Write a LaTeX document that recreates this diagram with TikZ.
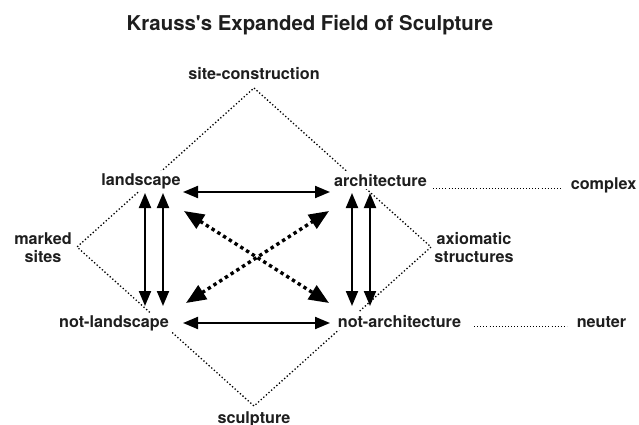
\documentclass[tikz,border=0pt]{standalone}
\usepackage{fontspec}
\setmainfont{TeX Gyre Heros}
\usetikzlibrary{arrows.meta}
\definecolor{ink}{HTML}{1E1E1E}
\begin{document}
\begin{tikzpicture}[x=1pt,y=-1pt,
  ttl/.style={font=\fontsize{20.4}{24}\selectfont\bfseries, text=ink, inner sep=0pt, anchor=base},
  lbl/.style={font=\fontsize{16.2}{17.5}\selectfont\bfseries, text=ink, fill=white, inner sep=2.5pt, anchor=base},
  twoline/.style={font=\fontsize{16.2}{17.5}\selectfont\bfseries, text=ink, align=center, inner sep=0pt},
  edge/.style={line width=1.3pt, dash pattern=on 1.3pt off 2.2pt},
  leader/.style={line width=0.9pt, dash pattern=on 0.9pt off 2.2pt},
  rel/.style={line width=2pt, {Triangle[length=15pt,width=12pt]}-{Triangle[length=15pt,width=12pt]}},
  opp/.style={line width=3.4pt, dash pattern=on 3.4pt off 3.4pt, {Triangle[length=20pt,width=16pt]}-{Triangle[length=20pt,width=16pt]}},
]
\useasboundingbox (0,0) rectangle (639,425);

% corners of the expanded field
\coordinate (top) at (254,88);
\coordinate (left) at (77,247);
\coordinate (bottom) at (254,406);
\coordinate (right) at (431,247);
\draw[edge] (top) -- (right) -- (bottom) -- (left) -- cycle;

% title
\node[ttl] (title) at (310,31) {Krauss\textquotesingle s Expanded Field of Sculpture};

% the four terms and the complex/neuter combinations
\node[lbl] (site) at (254,80) {site-construction};
\node[lbl] (land) at (141,185) {landscape};
\node[lbl] (arch) at (380.5,186) {architecture};
\node[lbl] (nland) at (114,327) {not-landscape};
\node[lbl] (narch) at (399.5,327) {not-architecture};
\node[lbl] (sculp) at (254,423) {sculpture};
\node[lbl] (cplx) at (603.5,189) {complex};
\node[lbl] (neut) at (601.5,327) {neuter};
\node[twoline] (marked) at (43,247.5) {marked\\sites};
\node[twoline] (axiom) at (474,247.5) {axiomatic\\structures};

% dotted leaders
\coordinate (lc1) at (433,188);
\coordinate (lc2) at (563,188);
\coordinate (ln1) at (474,326);
\coordinate (ln2) at (567,326);
\draw[leader] (lc1) -- (lc2);
\draw[leader] (ln1) -- (ln2);

% arrow end points
\coordinate (l1a) at (145,193);  \coordinate (l1b) at (145,306);
\coordinate (l2a) at (163,193);  \coordinate (l2b) at (163,306);
\coordinate (r1a) at (352,193);  \coordinate (r1b) at (352,306);
\coordinate (r2a) at (370,193);  \coordinate (r2b) at (370,306);
\coordinate (ta) at (183,192);   \coordinate (tb) at (330,192);
\coordinate (ba) at (183,323);   \coordinate (bb) at (330,323);
\coordinate (d1a) at (184,211);  \coordinate (d1b) at (329,303);
\coordinate (d2a) at (186,303);  \coordinate (d2b) at (329,211);

% relations between the terms
\draw[rel] (l1a) -- (l1b);
\draw[rel] (l2a) -- (l2b);
\draw[rel] (r1a) -- (r1b);
\draw[rel] (r2a) -- (r2b);
\draw[rel] (ta) -- (tb);
\draw[rel] (ba) -- (bb);
\draw[opp] (d1a) -- (d1b);
\draw[opp] (d2a) -- (d2b);
\end{tikzpicture}
\end{document}
